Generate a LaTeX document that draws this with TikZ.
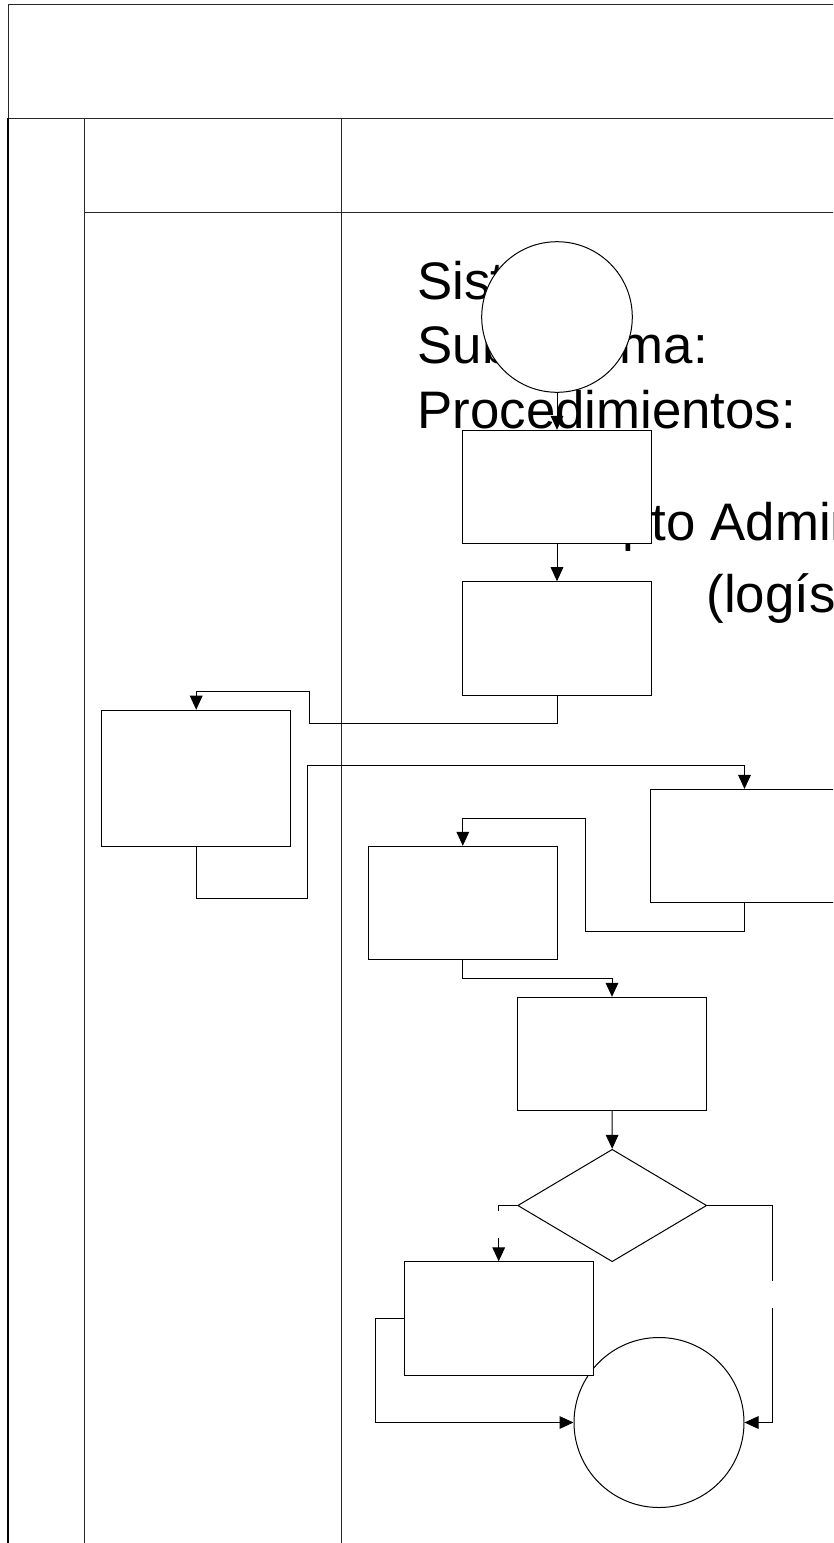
\documentclass[tikz,border=0pt]{standalone}
\usepackage{fontspec}
\setmainfont{Liberation Sans}
\usetikzlibrary{arrows.meta,shapes.geometric}
\begin{document}
\begin{tikzpicture}[x=0.75pt,y=-0.75pt,
  line width=0.75pt,
  frameline/.style={line width=0.75pt,black!85},
  laneline/.style={line width=1pt,black!85},
  stepbox/.style={draw,fill=white,rectangle,inner sep=0pt,
    minimum width=141.75pt,minimum height=85.05pt},
  tallbox/.style={stepbox,minimum height=102pt},
  decision/.style={draw,fill=white,diamond,inner sep=0pt,
    minimum width=141.75pt,minimum height=84.3pt},
  terminal/.style={draw,fill=white,circle,inner sep=0pt},
  flow/.style={-{Triangle[length=10.5pt,width=9.5pt]}},
  gapmask/.style={fill=white,inner sep=0pt,minimum width=6pt,minimum height=20.25pt},
  title/.style={anchor=base west,inner sep=0pt,font=\fontsize{39.6}{47}\selectfont}]
\useasboundingbox (0,0) rectangle (833,1543);
\clip (0,0) rectangle (833,1543);

% swimlane frame
\draw[frameline] (840,4.5) -- (8,4.5) -- (8,118) -- (840,118);
\draw[line width=1.6pt] (8,118) -- (8,1550);
\draw[laneline] (84.5,118) -- (84.5,1550);
\draw[laneline] (341.7,118) -- (341.7,1550);
\draw[frameline] (84.5,212.3) -- (840,212.3);

% heading text
\node[title] (tsis) at (417,299) {Sistema:};
\node[title] (tsub) at (417,363) {Subsistema:};
\node[title] (tproc) at (417,428) {Procedimientos:};
\node[title] (tdep) at (584,540) {Dpto Administración};
\node[title] (tlog) at (706,612) {(logística)};

% flow shapes
\node[terminal,minimum size=112.95pt] (c1) at (557,317) {};
\node[stepbox] (r1) at (557,487) {};
\node[stepbox] (r2) at (557,638.4) {};
\node[tallbox] (r3) at (196.2,778.2) {};
\node[stepbox] (r4) at (744.5,846.1) {};
\node[stepbox] (r5) at (462.8,903) {};
\node[stepbox] (r6) at (612,1054) {};
\node[decision] (d1) at (612.2,1205.5) {};
\node[terminal,minimum size=127.5pt] (c2) at (659,1422.5) {};
\node[stepbox] (r7) at (498.7,1318.5) {};

% connectors
\draw[flow] (c1.south) -- (r1.north);
\draw[flow] (r1.south) -- (r2.north);
\draw[flow] (r2.south) -- (r2.south |- 0,723) -- (309.3,723) -- (309.3,691)
  -- (r3.north |- 0,691) -- (r3.north);
\draw[flow] (r3.south) -- (r3.south |- 0,898.7) -- (307.7,898.7) -- (307.7,765)
  -- (r4.north |- 0,765) -- (r4.north);
\draw[flow] (r4.south) -- (r4.south |- 0,931.3) -- (585.7,931.3) -- (585.7,818)
  -- (r5.north |- 0,818) -- (r5.north);
\draw[flow] (r5.south) -- (r5.south |- 0,978.7) -- (r6.north |- 0,978.7) -- (r6.north);
\draw[flow] (r6.south) -- (d1.north);
\draw[flow] (d1.west) -- (r7.north |- d1.west) -- (r7.north);
\draw[flow] (d1.east) -- (772.7,1205.5) -- (772.7,1422.5) -- (c2.east);
\draw[flow] (r7.west) -- (375.7,1318.5) -- (375.7,1422.5) -- (c2.west);

% blank branch labels
\node[gapmask] (lbl1) at (498.7,1224) {};
\node[gapmask] (lbl2) at (772.7,1294.8) {};
\end{tikzpicture}
\end{document}
